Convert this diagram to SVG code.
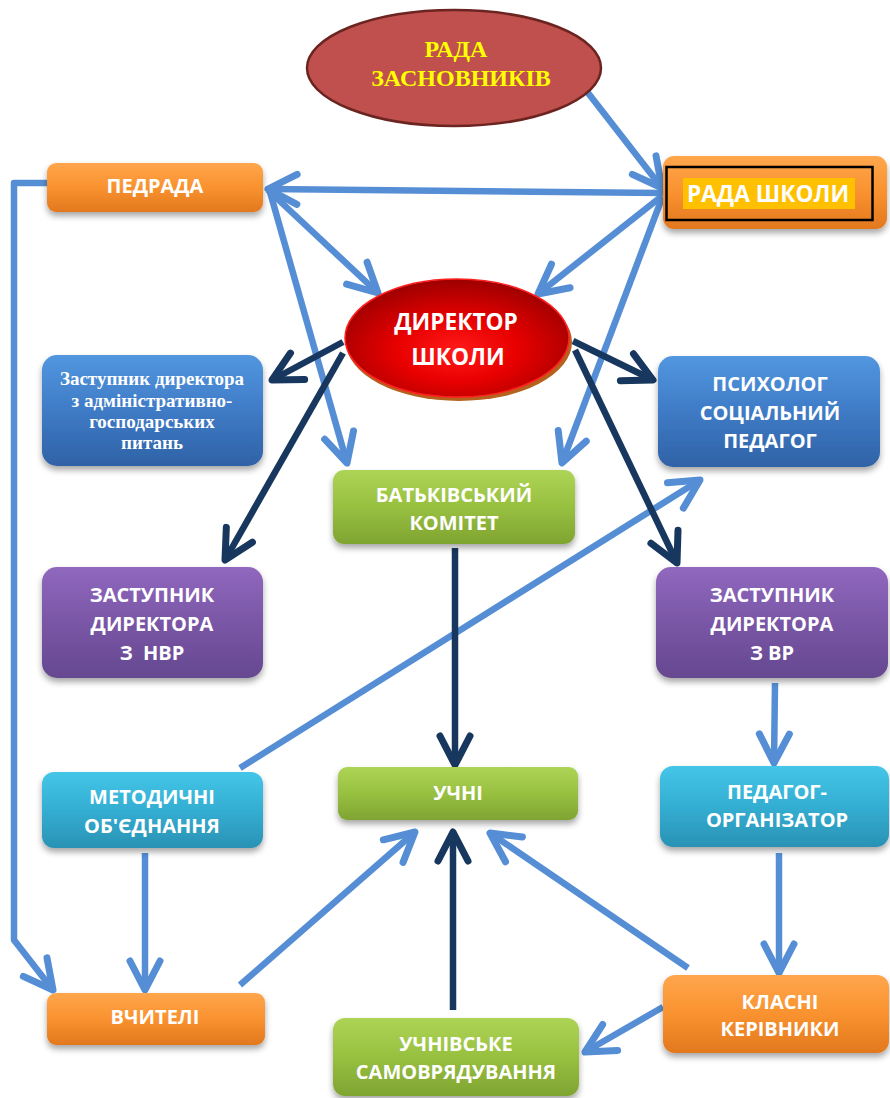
<svg xmlns="http://www.w3.org/2000/svg" width="890" height="1098" viewBox="0 0 890 1098">
<style>
.t{font-family:"Open Sans","Liberation Sans",Arial,sans-serif;font-weight:bold;font-size:20px;fill:#fff;text-anchor:middle}
.s{font-family:"Liberation Serif","Times New Roman",serif;font-weight:bold;text-anchor:middle}
.lt{stroke:#558ED5;stroke-width:6.5;fill:none;stroke-linejoin:round;marker-end:url(#la)}
.dk{stroke:#17375E;stroke-width:6.5;fill:none;marker-end:url(#da)}
.box{filter:url(#sh)}
</style>
<defs>
<filter id="sh" x="-10%" y="-10%" width="120%" height="135%">
<feDropShadow dx="0" dy="4" stdDeviation="3" flood-color="#000" flood-opacity="0.35"/>
</filter>
<linearGradient id="gO" x1="0" y1="0" x2="0" y2="1"><stop offset="0" stop-color="#FFA64C"/><stop offset="0.5" stop-color="#F9922F"/><stop offset="1" stop-color="#E2781E"/></linearGradient>
<linearGradient id="gB" x1="0" y1="0" x2="0" y2="1"><stop offset="0" stop-color="#5297E0"/><stop offset="0.5" stop-color="#3F7BC6"/><stop offset="1" stop-color="#2F62A6"/></linearGradient>
<linearGradient id="gP" x1="0" y1="0" x2="0" y2="1"><stop offset="0" stop-color="#9068BE"/><stop offset="0.5" stop-color="#7A56A6"/><stop offset="1" stop-color="#654890"/></linearGradient>
<linearGradient id="gG" x1="0" y1="0" x2="0" y2="1"><stop offset="0" stop-color="#AED456"/><stop offset="0.5" stop-color="#98C040"/><stop offset="1" stop-color="#7FA432"/></linearGradient>
<linearGradient id="gT" x1="0" y1="0" x2="0" y2="1"><stop offset="0" stop-color="#44C6E8"/><stop offset="0.5" stop-color="#33AED2"/><stop offset="1" stop-color="#2A92B4"/></linearGradient>
<radialGradient id="gR" cx="0.5" cy="0.6" r="0.6"><stop offset="0" stop-color="#FF1A1A"/><stop offset="0.45" stop-color="#E80000"/><stop offset="1" stop-color="#9C0000"/></radialGradient>
<marker id="la" markerUnits="userSpaceOnUse" markerWidth="1" markerHeight="1" refX="0" refY="0" orient="auto" overflow="visible">
<path d="M-29,-15 L0,0 L-29,15" fill="none" stroke="#558ED5" stroke-width="7" stroke-linecap="round" stroke-linejoin="round"/>
</marker>
<marker id="da" markerUnits="userSpaceOnUse" markerWidth="1" markerHeight="1" refX="0" refY="0" orient="auto" overflow="visible">
<path d="M-29,-15 L0,0 L-29,15" fill="none" stroke="#17375E" stroke-width="7" stroke-linecap="round" stroke-linejoin="round"/>
</marker>
</defs>

<g id="connectors">
<line class="lt" x1="578" y1="80" x2="662" y2="188"/>
<line class="lt" x1="663" y1="193" x2="268" y2="189"/>
<line class="lt" x1="662" y1="196" x2="538" y2="294"/>
<line class="lt" x1="662" y1="198" x2="562" y2="463"/>
<line class="lt" x1="268" y1="190" x2="378" y2="293"/>
<line class="lt" x1="270" y1="192" x2="347" y2="463"/>
<polyline class="lt" points="47,183 14,183 14,940 53,990"/>
<line class="lt" x1="240" y1="768" x2="700" y2="480"/>
<line class="lt" x1="775" y1="683" x2="774" y2="763"/>
<line class="lt" x1="145" y1="853" x2="145" y2="990"/>
<line class="lt" x1="240" y1="985" x2="415" y2="832"/>
<line class="lt" x1="688" y1="968" x2="490" y2="833"/>
<line class="lt" x1="779" y1="853" x2="779" y2="973"/>
<line class="lt" x1="663" y1="1007" x2="585" y2="1052"/>
<line class="dk" x1="343" y1="342" x2="272" y2="380"/>
<line class="dk" x1="343" y1="353" x2="225" y2="560"/>
<line class="dk" x1="573" y1="341" x2="653" y2="380"/>
<line class="dk" x1="575" y1="350" x2="677" y2="563"/>
<line class="dk" x1="455" y1="548" x2="455" y2="765"/>
<line class="dk" x1="453" y1="1010" x2="453" y2="832"/>
</g>

<g id="rada-zasnovnykiv">
<ellipse cx="454" cy="68" rx="147" ry="58" fill="#C0504D" stroke="#6B2420" stroke-width="2.5"/>
<text class="s" x="456" y="57" font-size="24" fill="#FFFF00">РАДА</text>
<text class="s" x="461" y="86" font-size="24" fill="#FFFF00">ЗАСНОВНИКІВ</text>
</g>

<g id="pedrada">
<rect class="box" x="47" y="163" width="216" height="49" rx="9" fill="url(#gO)"/>
<text class="t" x="155" y="193">ПЕДРАДА</text>
</g>

<g id="rada-shkoly">
<rect class="box" x="663" y="156" width="224" height="73" rx="11" fill="url(#gO)"/>
<rect x="666.5" y="167" width="206" height="53" fill="none" stroke="#000" stroke-width="2.5"/>
<rect x="683" y="178" width="172" height="31" fill="#FFC000"/>
<text class="t" x="768" y="202" style="font-size:22.7px">РАДА ШКОЛИ</text>
</g>

<g id="dyrektor">
<ellipse cx="459" cy="342" rx="113" ry="59" fill="#B5621E"/>
<ellipse cx="457" cy="338" rx="112" ry="59" fill="url(#gR)" stroke="#FF2020" stroke-width="1.5"/>
<text class="t" x="456" y="330" style="font-size:22.7px">ДИРЕКТОР</text>
<text class="t" x="458" y="365" style="font-size:22.7px">ШКОЛИ</text>
</g>

<g id="zastupnyk-ag">
<rect class="box" x="42" y="355" width="221" height="111" rx="15" fill="url(#gB)"/>
<text class="s" x="152" y="385" font-size="19" fill="#fff">Заступник директора</text>
<text class="s" x="152" y="407" font-size="19" fill="#fff">з адміністративно-</text>
<text class="s" x="152" y="428" font-size="19" fill="#fff">господарських</text>
<text class="s" x="152" y="449" font-size="19" fill="#fff">питань</text>
</g>

<g id="psykholoh">
<rect class="box" x="658" y="356" width="222" height="111" rx="15" fill="url(#gB)"/>
<text class="t" x="770" y="391">ПСИХОЛОГ</text>
<text class="t" x="770" y="420">СОЦІАЛЬНИЙ</text>
<text class="t" x="770" y="448">ПЕДАГОГ</text>
</g>

<g id="batkivskyi">
<rect class="box" x="333" y="470" width="242" height="74" rx="11" fill="url(#gG)"/>
<text class="t" x="454" y="502">БАТЬКІВСЬКИЙ</text>
<text class="t" x="454" y="530">КОМІТЕТ</text>
</g>

<g id="zastupnyk-nvr">
<rect class="box" x="42" y="567" width="221" height="111" rx="15" fill="url(#gP)"/>
<text class="t" x="152" y="602">ЗАСТУПНИК</text>
<text class="t" x="152" y="631">ДИРЕКТОРА</text>
<text class="t" x="152" y="660" xml:space="preserve">З  НВР</text>
</g>

<g id="zastupnyk-vr">
<rect class="box" x="656" y="567" width="232" height="111" rx="15" fill="url(#gP)"/>
<text class="t" x="772" y="602">ЗАСТУПНИК</text>
<text class="t" x="772" y="631">ДИРЕКТОРА</text>
<text class="t" x="772" y="660">З ВР</text>
</g>

<g id="metodychni">
<rect class="box" x="42" y="772" width="221" height="76" rx="12" fill="url(#gT)"/>
<text class="t" x="152" y="804">МЕТОДИЧНІ</text>
<text class="t" x="152" y="833">ОБ'ЄДНАННЯ</text>
</g>

<g id="uchni">
<rect class="box" x="338" y="767" width="240" height="53" rx="9" fill="url(#gG)"/>
<text class="t" x="458" y="800">УЧНІ</text>
</g>

<g id="pedahoh-orh">
<rect class="box" x="660" y="766" width="229" height="81" rx="13" fill="url(#gT)"/>
<text class="t" x="777" y="799">ПЕДАГОГ-</text>
<text class="t" x="777" y="827">ОРГАНІЗАТОР</text>
</g>

<g id="vchyteli">
<rect class="box" x="47" y="993" width="218" height="52" rx="9" fill="url(#gO)"/>
<text class="t" x="155" y="1024">ВЧИТЕЛІ</text>
</g>

<g id="samovriaduvannia">
<rect class="box" x="333" y="1018" width="246" height="78" rx="12" fill="url(#gG)"/>
<text class="t" x="456" y="1051">УЧНІВСЬКЕ</text>
<text class="t" x="456" y="1079">САМОВРЯДУВАННЯ</text>
</g>

<g id="klasni">
<rect class="box" x="663" y="975" width="226" height="78" rx="12" fill="url(#gO)"/>
<text class="t" x="780" y="1009">КЛАСНІ</text>
<text class="t" x="780" y="1036">КЕРІВНИКИ</text>
</g>
</svg>
